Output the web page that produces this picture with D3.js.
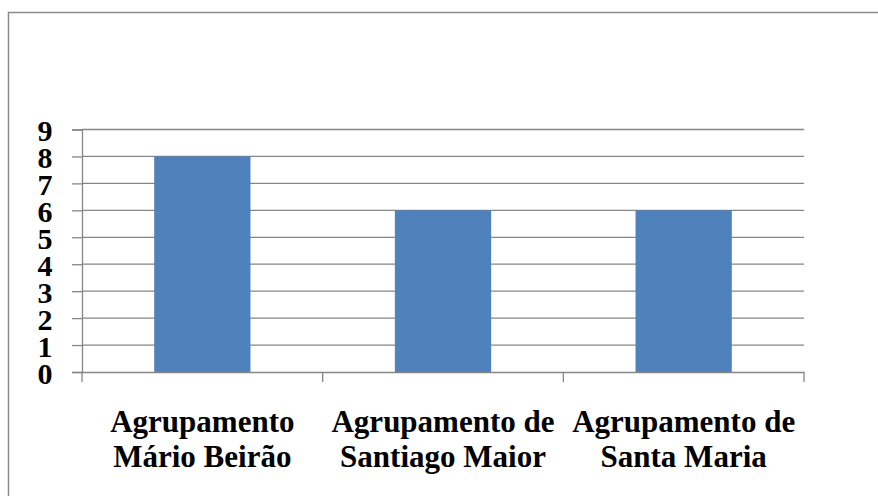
<!DOCTYPE html>
<html>
<head>
<meta charset="utf-8">
<script src="https://cdn.jsdelivr.net/npm/d3@7"></script>
<style>
  body { margin: 0; background: #fff; }
  svg text { font-family: "Liberation Serif", "Times New Roman", Times, "DejaVu Serif", serif; font-weight: bold; }
</style>
</head>
<body>
<div id="chart"></div>
<script>
// chart data
const categories = [["Agrupamento", "Mário Beirão"], ["Agrupamento de", "Santiago Maior"], ["Agrupamento de", "Santa Maria"]];
const values = [8, 6, 6];
const yTicks = [0, 1, 2, 3, 4, 5, 6, 7, 8, 9];

const width = 878;
const height = 496;
const margin = {top: 129.5, right: 74, bottom: 124, left: 82};

const svg = d3.select("#chart")
              .append("svg")
              .attr("width", width)
              .attr("height", height);

// outer frame
svg.append("rect")
   .attr("x", 8.5)
   .attr("y", 12.5)
   .attr("width", width)
   .attr("height", height)
   .attr("fill", "none")
   .attr("stroke", "#8c8c8c")
   .attr("stroke-width", 1.5);

let x = d3.scaleBand()
          .domain(d3.range(categories.length))
          .range([margin.left, width - margin.right])
          .padding(0);

let y = d3.scaleLinear()
          .domain([0, 9])
          .range([height - margin.bottom, margin.top]);

// y axis
const yAxis = svg.append("g")
   .attr("transform", `translate(${margin.left},0)`)
   .call(d3.axisLeft(y).tickValues(yTicks).tickSize(10).tickPadding(19.5)
           .tickFormat(d3.format("d")));
yAxis.attr("font-family", null);
yAxis.select(".domain").attr("stroke", "#868686").attr("stroke-width", 1.3);
yAxis.selectAll(".tick line").attr("stroke", "#868686").attr("stroke-width", 1.3);
yAxis.selectAll(".tick text")
     .attr("font-size", 30)
     .attr("fill", "#000")
     .attr("dy", "0.38em");

// gridlines
svg.append("g")
   .selectAll("line")
   .data(yTicks.filter(d => d > 0))
   .join("line")
   .attr("x1", margin.left)
   .attr("x2", width - margin.right)
   .attr("y1", d => y(d))
   .attr("y2", d => y(d))
   .attr("stroke", "#868686")
   .attr("stroke-width", 1.3);

// bars
svg.append("g")
   .attr("fill", "#4f81bd")
   .selectAll("rect")
   .data(values)
   .join("rect")
   .attr("x", (d, i) => x(i) + x.bandwidth() * 0.3)
   .attr("width", x.bandwidth() * 0.4)
   .attr("y", d => y(d))
   .attr("height", d => y(0) - y(d));

// x axis
const xAxis = svg.append("g")
   .attr("transform", `translate(0,${y(0)})`)
   .call(d3.axisBottom(x).tickSize(0).tickFormat(""));
xAxis.select(".domain").attr("stroke", "#868686").attr("stroke-width", 1.3);
xAxis.selectAll(".tick").remove();

svg.append("g")
   .selectAll("line")
   .data(d3.range(categories.length + 1))
   .join("line")
   .attr("x1", i => i < categories.length ? x(i) : x(i - 1) + x.bandwidth())
   .attr("x2", i => i < categories.length ? x(i) : x(i - 1) + x.bandwidth())
   .attr("y1", y(0))
   .attr("y2", y(0) + 10)
   .attr("stroke", "#868686")
   .attr("stroke-width", 1.3);

// category labels
const labels = svg.append("g")
   .attr("text-anchor", "middle")
   .attr("font-size", 31)
   .selectAll("text")
   .data(categories)
   .join("text")
   .attr("x", (d, i) => x(i) + x.bandwidth() / 2)
   .attr("y", 432);

labels.selectAll("tspan")
      .data(d => d)
      .join("tspan")
      .attr("x", function() { return d3.select(this.parentNode).attr("x"); })
      .attr("dy", (d, j) => j === 0 ? 0 : 35)
      .text(d => d);
</script>
</body>
</html>
